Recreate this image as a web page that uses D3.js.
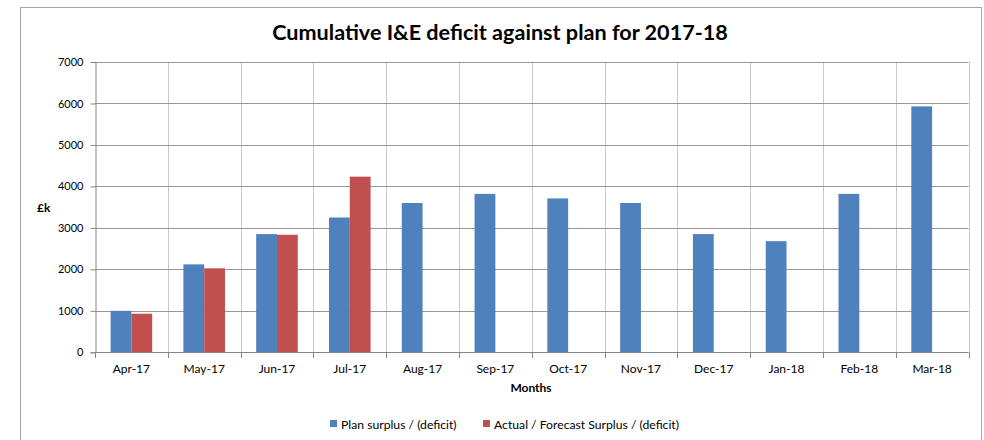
<!DOCTYPE html>
<html>
<head>
<meta charset="utf-8">
<script src="https://cdn.jsdelivr.net/npm/d3@7/dist/d3.min.js"></script>
<style>
  html, body { margin: 0; padding: 0; background: #fff; }
  svg { display: block; font-family: Lato, "Open Sans", sans-serif; }
</style>
</head>
<body>
<svg id="chart" width="984" height="440"></svg>
<script>
// Monthly cumulative I&E position, £k
const months = ["Apr-17","May-17","Jun-17","Jul-17","Aug-17","Sep-17","Oct-17","Nov-17","Dec-17","Jan-18","Feb-18","Mar-18"];
const planValues = [1000, 2120, 2850, 3250, 3600, 3820, 3710, 3600, 2850, 2680, 3820, 5930];
const actualValues = [930, 2025, 2835, 4235, null, null, null, null, null, null, null, null];
const yTicks = [0, 1000, 2000, 3000, 4000, 5000, 6000, 7000];
const seriesNames = ["Plan surplus / (deficit)", "Actual / Forecast Surplus / (deficit)"];
const seriesColors = ["#4f81bd", "#c0504d"];

const svg = d3.select("#chart");
const plot = { left: 95, right: 968.5, top: 62, bottom: 352.3 };

// chart frame
svg.append("rect")
  .attr("x", 20.5).attr("y", 7.5)
  .attr("width", 961).attr("height", 450)
  .attr("fill", "#fff").attr("stroke", "#a6a6a6").attr("stroke-width", 1);

svg.append("text")
  .attr("x", 500).attr("y", 40)
  .attr("text-anchor", "middle")
  .attr("font-size", 21.6).attr("font-weight", "bold")
  .attr("fill", "#000")
  .text("Cumulative I&E deficit against plan for 2017-18");

const x = d3.scaleBand().domain(months).range([plot.left, plot.right]).paddingInner(0).paddingOuter(0);
const barW = x.bandwidth() / 3.5;
const x1 = d3.scaleBand().domain([0, 1]).range([0, barW * 2]);
const y = d3.scaleLinear().domain([0, 7000]).range([plot.bottom, plot.top]);

// vertical gridlines at category boundaries
const bounds = months.map(m => x(m)).concat([plot.right]);
svg.append("g").selectAll("line").data(bounds.slice(1)).join("line")
  .attr("x1", d => Math.round(d) + 0.5).attr("x2", d => Math.round(d) + 0.5)
  .attr("y1", plot.top).attr("y2", plot.bottom)
  .attr("stroke", "#c8c8c8").attr("stroke-width", 1);

// horizontal gridlines
svg.append("g").selectAll("line").data(yTicks.slice(1)).join("line")
  .attr("x1", plot.left).attr("x2", plot.right)
  .attr("y1", d => Math.round(y(d)) + 0.5).attr("y2", d => Math.round(y(d)) + 0.5)
  .attr("stroke", "#999").attr("stroke-width", 1);

// bars
const groups = svg.append("g").selectAll("g").data(months).join("g")
  .attr("transform", d => `translate(${x(d) + (x.bandwidth() - barW * 2) / 2},0)`);
[planValues, actualValues].forEach((vals, si) => {
  groups.filter((d, i) => vals[i] != null)
    .append("rect")
    .attr("x", x1(si))
    .attr("width", barW)
    .attr("y", d => y(vals[months.indexOf(d)]))
    .attr("height", d => plot.bottom - y(vals[months.indexOf(d)]))
    .attr("fill", seriesColors[si]);
});

// y axis
const yAxis = d3.axisLeft(y).tickValues(yTicks).tickSize(5).tickPadding(7).tickFormat(d3.format("d"));
const gy = svg.append("g").attr("transform", `translate(${plot.left + 0.5},0)`).call(yAxis);
gy.select(".domain").attr("stroke", "#868686");
gy.selectAll(".tick line").attr("stroke", "#868686");
gy.selectAll(".tick text").attr("font-size", 11).attr("fill", "#000").attr("font-family", "Lato, sans-serif");

// x axis: baseline, boundary ticks, labels
svg.append("line")
  .attr("x1", plot.left).attr("x2", plot.right)
  .attr("y1", Math.round(plot.bottom) + 0.5).attr("y2", Math.round(plot.bottom) + 0.5)
  .attr("stroke", "#868686");
svg.append("g").selectAll("line").data(bounds).join("line")
  .attr("x1", d => Math.round(d) + 0.5).attr("x2", d => Math.round(d) + 0.5)
  .attr("y1", Math.round(plot.bottom)).attr("y2", Math.round(plot.bottom) + 6)
  .attr("stroke", "#868686");
svg.append("g").selectAll("text").data(months).join("text")
  .attr("x", d => x(d) + x.bandwidth() / 2)
  .attr("y", 373)
  .attr("text-anchor", "middle")
  .attr("font-size", 12).attr("fill", "#000")
  .text(d => d);

// axis titles
svg.append("text").attr("x", 531).attr("y", 392).attr("text-anchor", "middle")
  .attr("font-size", 12).attr("font-weight", "bold").text("Months");
svg.append("text").attr("x", 37).attr("y", 212)
  .attr("font-size", 12).attr("font-weight", "bold").text("£k");

// legend
const legend = [{ x: 330 }, { x: 483 }];
legend.forEach((l, i) => {
  svg.append("rect").attr("x", l.x).attr("y", 420).attr("width", 7).attr("height", 7).attr("fill", seriesColors[i]);
  svg.append("text").attr("x", l.x + 11).attr("y", 428.5)
    .attr("font-size", 12.2).attr("fill", "#000").text(seriesNames[i]);
});
</script>
</body>
</html>
